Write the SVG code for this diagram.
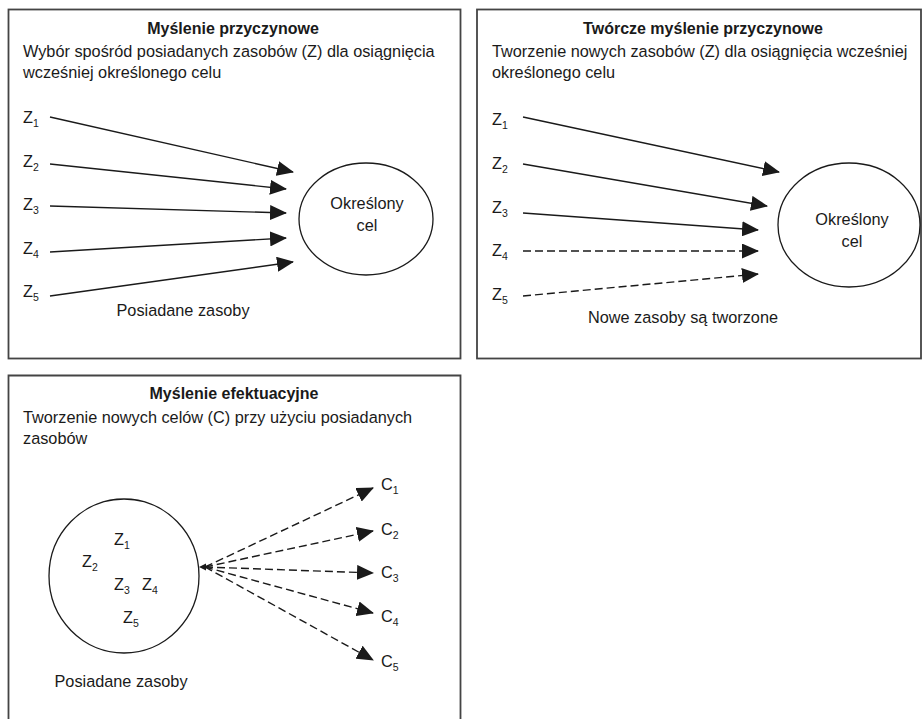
<svg xmlns="http://www.w3.org/2000/svg" width="923" height="719" viewBox="0 0 923 719">
  <style>
    text { font-family: "Liberation Sans", Arial, sans-serif; font-size: 16.3px; fill: #1a1a1a; }
    .title { font-size: 16px; font-weight: bold; text-anchor: middle; }
    .mid { text-anchor: middle; }
    .sub { font-size: 10.5px; }
    .frame { fill: none; stroke: #444; stroke-width: 1.8; }
    .shape { fill: none; stroke: #1a1a1a; stroke-width: 1.3; }
    .arrow { fill: none; stroke: #1a1a1a; stroke-width: 1.4; marker-end: url(#head); }
    .dash { stroke-dasharray: 8 4; }
  </style>
  <defs>
    <marker id="head" markerUnits="userSpaceOnUse" markerWidth="17" markerHeight="15" viewBox="0 0 17 15" refX="16" refY="7.5" orient="auto">
      <path d="M0,0 L17,7.5 L0,15 z" fill="#1a1a1a"/>
    </marker>
  </defs>

  <!-- Panel 1: causal thinking -->
  <g id="panel-causal">
    <rect class="frame" x="8.5" y="9.5" width="452" height="349"/>
    <text class="title" x="233" y="34">Myślenie przyczynowe</text>
    <text x="23" y="57">Wybór spośród posiadanych zasobów (Z) dla osiągnięcia</text>
    <text x="23" y="78">wcześniej określonego celu</text>
    <text x="23" y="123">Z<tspan class="sub" dy="4">1</tspan></text>
    <text x="23" y="167">Z<tspan class="sub" dy="4">2</tspan></text>
    <text x="23" y="210">Z<tspan class="sub" dy="4">3</tspan></text>
    <text x="23" y="254">Z<tspan class="sub" dy="4">4</tspan></text>
    <text x="23" y="297">Z<tspan class="sub" dy="4">5</tspan></text>
    <text x="183" y="316" class="mid">Posiadane zasoby</text>
  </g>
  <g id="goal-causal">
    <ellipse class="shape" cx="366" cy="219" rx="67" ry="56"/>
    <text class="mid" x="367" y="209">Określony</text>
    <text class="mid" x="367" y="231">cel</text>
  </g>

  <!-- Panel 2: creative causal thinking -->
  <g id="panel-creative">
    <rect class="frame" x="477" y="9.5" width="444" height="349"/>
    <text class="title" x="703" y="34">Twórcze myślenie przyczynowe</text>
    <text x="492" y="57">Tworzenie nowych zasobów (Z) dla osiągnięcia wcześniej</text>
    <text x="492" y="78">określonego celu</text>
    <text x="492" y="125">Z<tspan class="sub" dy="4">1</tspan></text>
    <text x="492" y="169">Z<tspan class="sub" dy="4">2</tspan></text>
    <text x="492" y="213">Z<tspan class="sub" dy="4">3</tspan></text>
    <text x="492" y="256">Z<tspan class="sub" dy="4">4</tspan></text>
    <text x="492" y="300">Z<tspan class="sub" dy="4">5</tspan></text>
    <text x="683" y="323" class="mid">Nowe zasoby są tworzone</text>
  </g>
  <g id="goal-creative">
    <ellipse class="shape" cx="849" cy="225" rx="71" ry="62"/>
    <text class="mid" x="852" y="225">Określony</text>
    <text class="mid" x="852" y="247">cel</text>
  </g>

  <!-- Panel 3: effectual thinking -->
  <g id="panel-effectual">
    <path class="frame" d="M8.5,719 V375.5 H460.5 V719"/>
    <text class="title" x="234" y="399">Myślenie efektuacyjne</text>
    <text x="23" y="423">Tworzenie nowych celów (C) przy użyciu posiadanych</text>
    <text x="23" y="444">zasobów</text>
    <text x="121" y="687" class="mid">Posiadane zasoby</text>
  </g>
  <g id="resources-effectual">
    <ellipse class="shape" cx="124" cy="576" rx="75" ry="77"/>
    <text x="114" y="545">Z<tspan class="sub" dy="4">1</tspan></text>
    <text x="82" y="567">Z<tspan class="sub" dy="4">2</tspan></text>
    <text x="114" y="590">Z<tspan class="sub" dy="4">3</tspan></text>
    <text x="142" y="590">Z<tspan class="sub" dy="4">4</tspan></text>
    <text x="123" y="623">Z<tspan class="sub" dy="4">5</tspan></text>
  </g>
  <g id="goals-effectual">
    <text x="381" y="490">C<tspan class="sub" dy="4">1</tspan></text>
    <text x="381" y="535">C<tspan class="sub" dy="4">2</tspan></text>
    <text x="381" y="578">C<tspan class="sub" dy="4">3</tspan></text>
    <text x="381" y="622">C<tspan class="sub" dy="4">4</tspan></text>
    <text x="381" y="667">C<tspan class="sub" dy="4">5</tspan></text>
  </g>

  <!-- Connectors -->
  <g id="connectors">
    <line class="arrow" x1="50" y1="117" x2="293" y2="172"/>
    <line class="arrow" x1="50" y1="164" x2="286" y2="189"/>
    <line class="arrow" x1="50" y1="206" x2="286" y2="213"/>
    <line class="arrow" x1="50" y1="252" x2="286" y2="238"/>
    <line class="arrow" x1="50" y1="296" x2="293" y2="262"/>

    <line class="arrow" x1="523" y1="117" x2="779" y2="172"/>
    <line class="arrow" x1="523" y1="164" x2="767" y2="206"/>
    <line class="arrow" x1="523" y1="213" x2="758" y2="230"/>
    <line class="arrow dash" x1="523" y1="251" x2="758" y2="251"/>
    <line class="arrow dash" x1="523" y1="296" x2="758" y2="274"/>

    <polygon points="199,567 206,563.5 206,570.5" fill="#1a1a1a"/>
    <line class="arrow dash" x1="205" y1="567" x2="373" y2="488"/>
    <line class="arrow dash" x1="205" y1="567" x2="373" y2="531"/>
    <line class="arrow dash" x1="205" y1="567" x2="373" y2="573"/>
    <line class="arrow dash" x1="205" y1="567" x2="373" y2="613"/>
    <line class="arrow dash" x1="205" y1="567" x2="373" y2="660"/>
  </g>
</svg>
